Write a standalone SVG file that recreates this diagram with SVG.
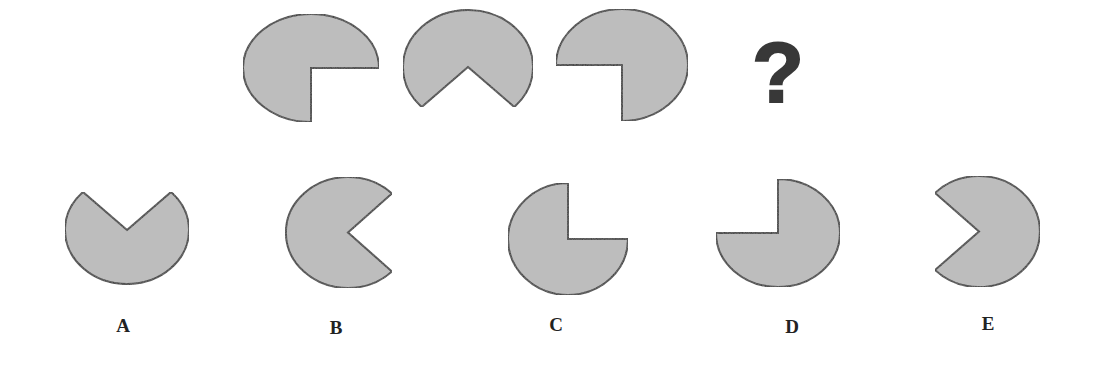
<svg xmlns="http://www.w3.org/2000/svg" width="1113" height="371" viewBox="0 0 1113 371">
  <style>
    .shape { fill: #bdbdbd; stroke: #2e2e2e; stroke-width: 2; stroke-linejoin: miter; }
    .label { font-family: "Liberation Serif", "Times New Roman", serif; font-weight: bold; font-size: 19px; fill: #222; text-anchor: middle; }
    .qmark { font-family: "Liberation Sans", Arial, sans-serif; font-weight: bold; font-size: 85px; fill: #383838; stroke: #383838; stroke-width: 2; text-anchor: middle; }
  </style>
  <defs>
    <filter id="grain" x="0" y="0" width="100%" height="100%">
      <feTurbulence type="fractalNoise" baseFrequency="0.9" numOctaves="2" seed="3" result="n"/>
      <feColorMatrix in="n" type="matrix" values="0 0 0 0 0.5  0 0 0 0 0.5  0 0 0 0 0.5  0 0 0 0.35 0" result="g"/>
      <feComposite in="g" in2="SourceGraphic" operator="atop"/>
    </filter>
  </defs>
  <rect width="1113" height="371" fill="#ffffff"/>

  <g id="seq1"><path class="shape" filter="url(#grain)" d="M311,68 H379 A68,54 0 1 0 311,122 Z"/></g>
  <g id="seq2"><path class="shape" filter="url(#grain)" d="M468,67 L514.3,107 A65,57 0 1 0 421.7,107 Z"/></g>
  <g id="seq3"><path class="shape" filter="url(#grain)" d="M622,65 V121 A66,56 0 1 0 556,65 Z"/></g>
  <g id="question"><text class="qmark" x="778" y="102">?</text></g>

  <g id="optA">
    <path class="shape" filter="url(#grain)" d="M127,230 L171,192 A62,54 0 1 1 83,192 Z"/>
    <text class="label" x="123" y="332">A</text>
  </g>
  <g id="optB">
    <path class="shape" filter="url(#grain)" d="M348,232.5 L392,193.5 A62,55.5 0 1 0 392,271.5 Z"/>
    <text class="label" x="336" y="334">B</text>
  </g>
  <g id="optC">
    <path class="shape" filter="url(#grain)" d="M568,239 V183 A60,56 0 1 0 628,239 Z"/>
    <text class="label" x="556" y="331">C</text>
  </g>
  <g id="optD">
    <path class="shape" filter="url(#grain)" d="M778,233 H716 A62,54 0 1 0 778,179 Z"/>
    <text class="label" x="792" y="333">D</text>
  </g>
  <g id="optE">
    <path class="shape" filter="url(#grain)" d="M979,231.5 L935,193 A61,55.5 0 1 1 935,270 Z"/>
    <text class="label" x="988" y="330">E</text>
  </g>

  <g id="connectors"></g>
</svg>
